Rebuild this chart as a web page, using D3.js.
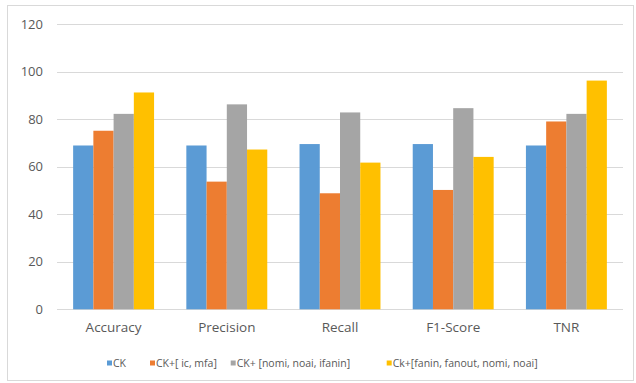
<!DOCTYPE html>
<html><head><meta charset="utf-8">
<script src="https://cdn.jsdelivr.net/npm/d3@7"></script>
<style>body{margin:0;background:#fff}svg{display:block}</style>
</head><body>
<script>
const categories = ["Accuracy","Precision","Recall","F1-Score","TNR"];
const seriesNames = ["CK","CK+[ ic, mfa]","CK+ [nomi, noai, ifanin]","Ck+[fanin, fanout, nomi, noai]"];
const ck      = [68.9, 68.9, 69.5, 69.5, 68.9];
const ckIcMfa = [75.1, 53.7, 48.8, 50.2, 79.0];
const ckNomi  = [82.2, 86.2, 82.8, 84.6, 82.2];
const ckFanin = [91.2, 67.2, 61.7, 64.1, 96.2];
const yTicks  = [0,20,40,60,80,100,120];
const colors  = ["#5B9BD5","#ED7D31","#A5A5A5","#FFC000"];

const seriesValues = [ck, ckIcMfa, ckNomi, ckFanin];
const W=636,H=383;
const svg=d3.select("body").append("svg").attr("width",W).attr("height",H);
svg.append("rect").attr("x",7.5).attr("y",5.5).attr("width",626).attr("height",375)
  .attr("fill","#fff").attr("stroke","#d9d9d9");

const x0=d3.scaleBand().domain(categories).range([57,623]).paddingInner(0.285).paddingOuter(0.1425);
const x1=d3.scaleBand().domain(d3.range(seriesNames.length)).range([0,x0.bandwidth()]).padding(0);
const y=d3.scaleLinear().domain([0,120]).range([309.3,24]);

const fontFam="'Open Sans', sans-serif";
svg.append("g").selectAll("line").data(yTicks).join("line")
  .attr("x1",57).attr("x2",623).attr("y1",d=>Math.round(y(d))+0.5).attr("y2",d=>Math.round(y(d))+0.5)
  .attr("stroke","#d9d9d9").attr("stroke-width",1);

const yAxis=d3.axisLeft(y).tickValues(yTicks).tickSize(0).tickPadding(0);
const ga=svg.append("g").attr("transform","translate(43,0)").call(yAxis);
ga.select(".domain").remove();
ga.selectAll("text").attr("font-family",fontFam).attr("font-size",13).attr("fill","#595959");

const groups=svg.append("g").selectAll("g").data(categories).join("g")
  .attr("transform",d=>`translate(${x0(d)},0)`);
groups.selectAll("rect").data((c,ci)=>seriesValues.map((s,si)=>({si,v:s[ci]}))).join("rect")
  .attr("x",d=>x1(d.si)).attr("width",x1.bandwidth())
  .attr("y",d=>y(d.v)).attr("height",d=>y(0)-y(d.v))
  .attr("fill",d=>colors[d.si]);

const xAxis=d3.axisBottom(x0).tickSize(0).tickPadding(0);
const gx=svg.append("g").attr("transform","translate(0,322)").call(xAxis);
gx.select(".domain").remove();
gx.selectAll("text").attr("font-family",fontFam).attr("font-size",13.5).attr("fill","#595959").attr("dy","0.71em");

const legX=[107,150,230.7,386.7];
const leg=svg.append("g").selectAll("g").data(seriesNames).join("g")
  .attr("transform",(d,i)=>`translate(${legX[i]},363)`);
leg.append("rect").attr("x",0).attr("y",-2.5).attr("width",5).attr("height",5).attr("fill",(d,i)=>colors[i]);
leg.append("text").attr("x",6).attr("y",0).attr("dy","0.35em").text(d=>d)
  .attr("font-family",fontFam).attr("font-size",10.5).attr("fill","#595959");
</script>
</body></html>
